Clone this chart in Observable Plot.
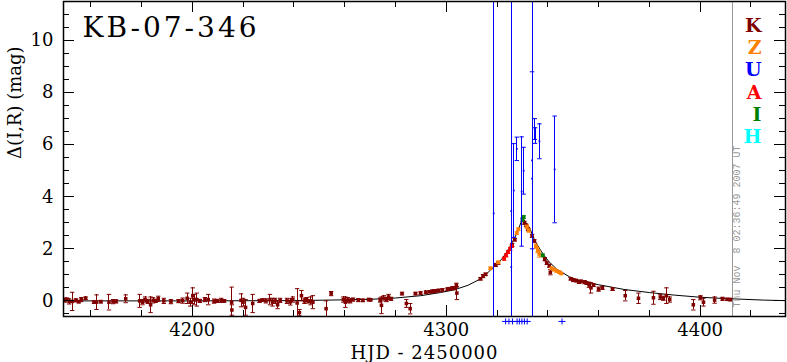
<!DOCTYPE html>
<html><head><meta charset="utf-8">
<script src="https://cdn.jsdelivr.net/npm/d3@7"></script>
<script src="https://cdn.jsdelivr.net/npm/@observablehq/plot@0.6"></script>
<style>body{margin:0;background:#fff} svg{display:block} svg text{white-space:pre} svg line{shape-rendering:crispEdges}</style>
</head><body><div id="chart"></div>
<script>
const title = "KB-07-346";
const xLabel = "HJD - 2450000";
const yLabel = "Δ(I,R) (mag)";
const stamp = "Thu Nov  8 02:36:49 2007 UT";
const nowT = 4412.6;
const xDomain = [4149.3, 4433.6];
const yDomain = [-0.6, 11.5];
const xMajor = [4200, 4300, 4400];
const xMinor = d3.range(4160, 4440, 20);
const yMajor = [0, 2, 4, 6, 8, 10];
const yMinor = d3.range(-0.5, 11.51, 0.5);
const bands = ["K", "Z", "U", "A", "I", "H"];
const bandColors = ["#800000", "#ff8000", "#0000ff", "#ff0000", "#008000", "#00ffff"];

// model curve
const modelT = [4149.3,4200,4240,4260,4270,4280,4290,4297.7,4303,4308.6,4313,4316,4318.7,4322,4325,4327.7,4329.6,4330.3,4331,4332.9,4334.9,4338.1,4340.5,4343.4,4348.6,4352.5,4360,4370,4380,4390,4400,4410,4420,4425,4433.6];
const modelY = [0.0,0.0,0.01,0.04,0.06,0.11,0.2,0.32,0.42,0.6,0.82,1.05,1.3,1.62,2.05,2.57,3.05,3.17,3.05,2.8,2.3,1.8,1.5,1.23,0.92,0.78,0.62,0.44,0.32,0.22,0.14,0.09,0.05,0.03,0.01];

// [HJD-2450000, delta mag, error]
const kPoints = [[4149.8,0.03,0.08],[4150.6,0.06,0.05],[4151.5,-0.02,0.1],[4152.7,-0.02,0.35],[4154.2,0.02,0.06],[4155.3,-0.03,0.05],[4156.3,0.05,0.08],[4158.0,0.1,0.05],[4161.3,-0.05,0.05],[4162.3,-0.05,0.28],[4164.0,-0.03,0.05],[4167.2,-0.05,0.3],[4168.8,-0.03,0.08],[4170.0,-0.02,0.06],[4173.8,0.08,0.15],[4179.3,0.0,0.25],[4180.4,-0.05,0.1],[4181.4,0.05,0.1],[4182.5,-0.02,0.08],[4183.6,-0.15,0.3],[4184.6,0.02,0.1],[4185.6,0.0,0.06],[4186.6,0.08,0.1],[4188.8,0.0,0.1],[4191.6,-0.03,0.08],[4194.6,-0.01,0.06],[4196.2,0.01,0.1],[4198.0,0.1,0.2],[4199.2,-0.05,0.15],[4200.2,0.2,0.3],[4200.8,0.05,0.2],[4201.8,0.05,0.25],[4203.0,0.0,0.06],[4205.0,0.05,0.08],[4206.3,0.05,0.2],[4208.6,-0.01,0.08],[4209.8,0.0,0.06],[4211.4,0.02,0.08],[4212.6,0.0,0.05],[4215.5,-0.05,0.58],[4215.6,-0.35,0.2],[4219.2,0.02,0.25],[4220.0,-0.05,0.15],[4221.0,-0.25,0.3],[4223.8,-0.1,0.35],[4226.5,0.0,0.06],[4227.6,0.03,0.05],[4229.0,0.0,0.08],[4230.6,0.05,0.2],[4231.6,-0.05,0.15],[4232.6,0.0,0.1],[4233.6,-0.15,0.15],[4234.6,0.02,0.08],[4237.3,0.0,0.1],[4238.6,-0.04,0.12],[4239.6,0.05,0.1],[4241.3,-0.08,0.55],[4242.2,-0.45,0.12],[4243.0,0.2,0.2],[4244.2,0.0,0.1],[4245.0,0.05,0.08],[4245.8,-0.02,0.06],[4246.6,0.0,0.15],[4247.5,-0.05,0.25],[4252.7,-0.3,0.3],[4254.7,0.28,0.08],[4259.5,0.05,0.1],[4260.3,-0.05,0.2],[4261.2,0.03,0.1],[4262.2,0.0,0.08],[4263.3,0.05,0.06],[4265.4,0.03,0.06],[4267.2,0.02,0.05],[4269.5,0.05,0.05],[4270.2,0.04,0.04],[4274.0,0.03,0.08],[4274.5,-0.17,0.32],[4275.5,0.1,0.1],[4276.5,0.05,0.08],[4277.3,0.15,0.1],[4278.3,0.08,0.06],[4282.6,0.28,0.05],[4284.3,-0.1,0.15],[4285.8,-0.3,0.2],[4287.9,0.28,0.05],[4289.9,0.3,0.05],[4292.0,0.33,0.05],[4293.5,0.35,0.04],[4294.5,0.36,0.06],[4295.8,0.38,0.05],[4297.0,0.4,0.05],[4298.5,0.42,0.05],[4300.5,0.45,0.05],[4301.5,0.47,0.04],[4302.5,0.5,0.05],[4303.2,0.48,0.05],[4304.0,0.6,0.08],[4304.2,0.3,0.25],[4313.5,0.85,0.05],[4314.5,0.95,0.06],[4315.5,1.02,0.05],[4319.5,1.38,0.06],[4320.5,1.45,0.05],[4326.0,2.15,0.06],[4327.0,2.35,0.05],[4330.8,3.0,0.06],[4331.5,2.9,0.05],[4332.2,2.75,0.06],[4333.8,2.5,0.06],[4334.7,2.3,0.05],[4338.8,1.6,0.06],[4339.6,1.45,0.05],[4340.6,1.35,0.06],[4341.0,1.1,0.1],[4349.0,0.85,0.05],[4350.0,0.8,0.06],[4351.2,0.78,0.05],[4352.3,0.72,0.05],[4353.0,0.75,0.05],[4354.5,0.72,0.06],[4355.3,0.68,0.05],[4356.2,0.62,0.1],[4357.0,0.5,0.2],[4358.0,0.6,0.05],[4360.0,0.45,0.08],[4361.5,0.5,0.06],[4365.5,0.45,0.05],[4370.5,0.2,0.2],[4375.7,0.1,0.2],[4381.6,0.12,0.25],[4384.3,0.15,0.1],[4385.5,0.1,0.08],[4386.7,0.2,0.3],[4388.0,0.05,0.1],[4397.3,-0.15,0.2],[4400.1,0.12,0.08],[4401.3,-0.05,0.15],[4405.7,0.03,0.12],[4408.8,0.08,0.06],[4410.6,0.06,0.04],[4411.9,0.05,0.05]];
const zPoints = [[4317.4,1.25,0.05],[4320.5,1.48,0.05],[4327.8,2.6,0.05],[4328.4,2.75,0.05],[4331.8,2.85,0.06],[4332.5,2.7,0.06],[4335.3,2.1,0.08],[4336.0,1.95,0.1],[4336.6,1.8,0.12],[4341.5,1.25,0.05],[4342.5,1.2,0.05],[4343.5,1.15,0.05],[4344.5,1.1,0.05],[4345.3,1.05,0.04]];
const uPoints = [[4318.7,3.36,15],[4325.6,1.3,15],[4325.6,3.45,15],[4326.6,4.24,1.8],[4327.8,5.84,0.45],[4329.7,4.2,2.1],[4330.5,5.0,0.9],[4333.8,4.7,15],[4333.8,5.4,3.4],[4334.9,6.6,0.4],[4335.0,6.35,0.3],[4336.7,6.13,0.67],[4342.7,5.05,2.05]];
const aPoints = [[4322.8,1.62,0.06],[4323.6,1.75,0.06],[4324.4,1.88,0.06],[4325.2,2.0,0.06],[4325.8,2.1,0.05]];
const iPoints = [[4330.0,3.12,0.06],[4330.5,3.22,0.05],[4338.0,1.75,0.05]];
const hPoints = [];
// U epochs marked below the frame
const uLowT = [4323.4,4324.7,4326.1,4327.9,4328.8,4329.8,4330.8,4331.9,4345.6];
const uLowY = -0.79;

const model = modelT.map((t, i) => ({t, y: modelY[i]}));
const toRows = (pts, band) => pts.map(([t, y, e]) => ({t, y, e, band}));
const groups = [toRows(kPoints, "K"), toRows(zPoints, "Z"), toRows(aPoints, "A"), toRows(iPoints, "I"), toRows(hPoints, "H"), toRows(uPoints, "U")];
const colorOf = b => bandColors[bands.indexOf(b)];

const capSymbol = {draw(ctx) { ctx.moveTo(-2.2, 0); ctx.lineTo(2.2, 0); }};
const plusSymbol = {draw(ctx) { ctx.moveTo(-3.5, 0); ctx.lineTo(3.5, 0); ctx.moveTo(0, -3); ctx.lineTo(0, 3); }};

const W = 787, H = 362, mL = 63, mR = 2, mT = 1, mB = 46;
const innerW = W - mL - mR, innerH = H - mT - mB;
const serif = "DejaVu Serif";

const dataMarks = [];
for (const rows of groups) {
  if (!rows.length) continue;
  const c = colorOf(rows[0].band);
  const isU = rows[0].band === "U";
  dataMarks.push(
    Plot.ruleX(rows, {x: "t", y1: d => d.y - d.e, y2: d => d.y + d.e, stroke: c, strokeWidth: 1, clip: true}),
    Plot.dot(rows, {x: "t", y: d => d.y - d.e, symbol: capSymbol, stroke: c, fill: "none", strokeWidth: 1, clip: true}),
    Plot.dot(rows, {x: "t", y: d => d.y + d.e, symbol: capSymbol, stroke: c, fill: "none", strokeWidth: 1, clip: true}),
    Plot.dot(rows, {x: "t", y: "y", symbol: "square", r: isU ? 1 : 2, fill: c, stroke: "none"})
  );
}

const chart = Plot.plot({
  width: W, height: H,
  marginLeft: mL, marginRight: mR, marginTop: mT, marginBottom: mB,
  x: {domain: xDomain, axis: null},
  y: {domain: yDomain, axis: null},
  style: {background: "white", color: "black"},
  marks: [
    Plot.ruleX([nowT], {x: d => d, stroke: "#999", strokeWidth: 1}),
    Plot.line(model, {x: "t", y: "y", stroke: "black", strokeWidth: 1}),
    ...dataMarks,
    Plot.dot(uLowT, {x: d => d, y: () => uLowY, symbol: plusSymbol, stroke: "#0000ff", fill: "none", strokeWidth: 1}),
    Plot.frame({stroke: "black", strokeWidth: 1.5}),
    // ticks, pointing inward on all four sides
    Plot.ruleX(xMinor, {x: d => d, insetTop: innerH - 6, stroke: "black"}),
    Plot.ruleX(xMinor, {x: d => d, insetBottom: innerH - 6, stroke: "black"}),
    Plot.ruleX(xMajor, {x: d => d, insetTop: innerH - 11, stroke: "black"}),
    Plot.ruleX(xMajor, {x: d => d, insetBottom: innerH - 11, stroke: "black"}),
    Plot.ruleY(yMinor, {y: d => d, insetRight: innerW - 6, stroke: "black"}),
    Plot.ruleY(yMinor, {y: d => d, insetLeft: innerW - 6, stroke: "black"}),
    Plot.ruleY(yMajor, {y: d => d, insetRight: innerW - 11, stroke: "black"}),
    Plot.ruleY(yMajor, {y: d => d, insetLeft: innerW - 11, stroke: "black"}),
    // tick labels
    Plot.text(xMajor, {x: d => d, text: d => String(d), frameAnchor: "bottom", lineAnchor: "top", dy: 7, fontSize: 18, fontFamily: serif, fill: "black"}),
    Plot.text(yMajor, {y: d => d, text: d => String(d), frameAnchor: "left", textAnchor: "end", dx: -10, fontSize: 18, fontFamily: serif, fill: "black"}),
    // axis titles
    Plot.text([xLabel], {frameAnchor: "bottom", lineAnchor: "bottom", dy: 42, fontSize: 18, fontFamily: serif, fill: "black"}),
    Plot.text([yLabel], {frameAnchor: "left", dx: -48, rotate: -90, fontSize: 18, fontFamily: serif, fill: "black"}),
    // title
    Plot.text([title], {frameAnchor: "top-left", textAnchor: "start", lineAnchor: "top", dx: 19, dy: 16, fontSize: 28, fontFamily: serif, fill: "black"}),
    // band legend
    ...bands.map((b, i) => Plot.text([b], {frameAnchor: "top-right", dx: -24, dy: 17 + 22.2 * i, fontSize: 19, fontWeight: "bold", fontFamily: serif, fill: bandColors[i]})),
    // time stamp
    Plot.text([stamp], {frameAnchor: "bottom-right", textAnchor: "start", dx: -46, dy: -9, rotate: -90, fontSize: 10, fontFamily: "Liberation Mono", fill: "#999"})
  ]
});
chart.querySelectorAll("text").forEach(t => {
  if (t.textContent === title) t.style.letterSpacing = "3px";
  if (t.textContent === xLabel) t.style.letterSpacing = "1px";
});
document.getElementById("chart").appendChild(chart);
</script>
</body></html>
